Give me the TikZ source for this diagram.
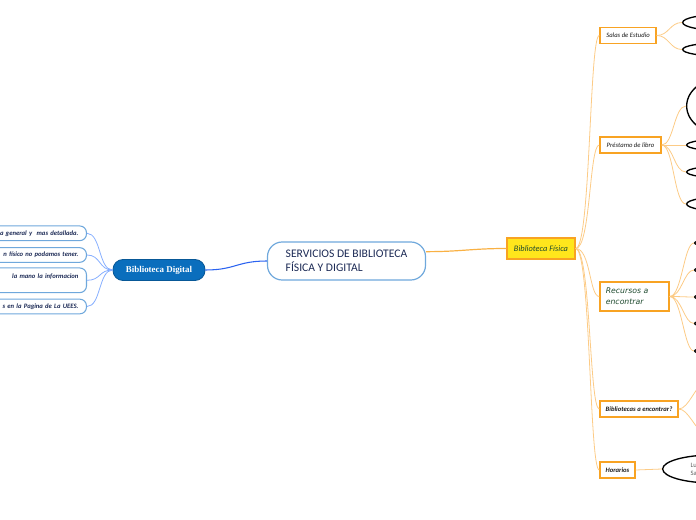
\documentclass[tikz,border=0pt]{standalone}
\usepackage{fontspec}
\setmainfont{Carlito}
\newfontfamily\digfont{Liberation Serif}
\newfontfamily\recfont{DejaVu Sans}
\usetikzlibrary{positioning,shapes.geometric,calc}
\definecolor{ink}      {HTML}{1B1B1B}
\definecolor{navy}     {HTML}{1C2A55}
\definecolor{skyline}  {HTML}{6FA8DC}
\definecolor{royal}    {HTML}{2B63F0}
\definecolor{paleblue} {HTML}{86AEFF}
\definecolor{digblue}  {HTML}{0A6EBD}
\definecolor{amber}    {HTML}{F8A323}
\definecolor{paleamber}{HTML}{FCCB86}
\definecolor{lemon}    {HTML}{FFE61C}
\definecolor{forest}   {HTML}{1E4A2E}
\tikzset{
  % --- nodes
  hub/.style   = {draw=skyline, line width=0.9pt, fill=white, rounded corners=11pt,
                  align=left, minimum width=118.5pt, minimum height=28.5pt,
                  font=\fontsize{8.7}{10.5}\selectfont, text=navy},
  dig/.style   = {draw=digblue!80!black, line width=0.6pt, fill=digblue, rounded corners=7.5pt,
                  minimum width=69pt, minimum height=15.75pt, inner sep=0pt,
                  font=\digfont\bfseries\fontsize{6.7}{8}\selectfont, text=white},
  leaf/.style  = {draw=skyline, line width=0.8pt, fill=white, rounded corners=5pt, anchor=east,
                  text width=150pt, align=right, inner xsep=6pt, minimum height=10.5pt,
                  font=\bfseries\itshape\fontsize{5}{6}\selectfont, text=navy},
  fis/.style   = {draw=amber, line width=1pt, fill=lemon, minimum width=51pt,
                  minimum height=15.75pt, inner sep=0pt,
                  font=\itshape\fontsize{6.3}{7.5}\selectfont, text=forest},
  sub/.style   = {draw=amber, line width=1.1pt, fill=white, minimum height=12pt, inner sep=0pt,
                  font=\itshape\fontsize{5}{6}\selectfont, text=ink},
  oval/.style  = {ellipse, draw=black, line width=1pt, fill=white, anchor=west, inner sep=0pt},
  % --- edges
  eblue/.style = {draw=royal, line width=0.8pt},
  ebthin/.style= {draw=paleblue, line width=0.6pt},
  eamb/.style  = {draw=amber!85, line width=0.9pt},
  eathin/.style= {draw=paleamber, line width=0.6pt},
}
\begin{document}
\begin{tikzpicture}[x=0.75pt,y=-0.75pt]
  \useasboundingbox (0,0) rectangle (696,520);
  \clip (0,0) rectangle (696,520);

  % --- centre and first level
  \node[hub] (srv) at (346.5,261) {SERVICIOS DE BIBLIOTECA\\FÍSICA Y DIGITAL};
  \node[dig] (dig) at (159,270) {Biblioteca Digital};
  \node[fis] (fis) at (541,248.5) {Biblioteca Física};
  \draw[eblue] (srv.west) .. controls +(-30,0) and +(30,0) .. (dig.east);
  \draw[eamb] ([yshift=7pt]srv.east) .. controls +(35,0) and +(-35,0) .. (fis.west);

  % --- digital side
  \node[leaf] (d1) at (87,233.3) {a general y\ \ mas detallada.};
  \node[leaf] (d2) at (87,255) {n físico no podamos tener.};
  \node[leaf, minimum height=18.5pt] (d3) at (87,280.3) {la mano la informacion\hspace*{5pt}\\~};
  \node[leaf] (d4) at (87,306.5) {s en la Pagina de La UEES.};
  \draw[ebthin] (dig.west) .. controls +(-14,0) and +(14,0) .. (d1.east);
  \draw[ebthin] (dig.west) .. controls +(-14,0) and +(14,0) .. (d2.east);
  \draw[ebthin] (dig.west) .. controls +(-14,0) and +(14,0) .. (d3.east);
  \draw[ebthin] (dig.west) .. controls +(-14,0) and +(14,0) .. (d4.east);

  % --- fisica side
  \node[sub, minimum width=42pt] (sal) at (628,35.5) {Salas de Estudio};
  \node[sub, minimum width=45.75pt] (pre) at (630.5,145) {Préstamo de libro};
  \node[sub, minimum width=51.75pt, minimum height=21.75pt, text width=43pt, align=left,
        font=\recfont\itshape\fontsize{5.8}{8.2}\selectfont, text=forest] (rec) at (634.5,296.5)
        {Recursos a\\encontrar};
  \node[sub, minimum width=58.5pt, font=\bfseries\itshape\fontsize{5}{6}\selectfont] (bib) at (639,409)
        {Bibliotecas a encontrar?};
  \node[sub, minimum width=26.25pt, font=\bfseries\itshape\fontsize{5}{6}\selectfont] (hor) at (617.5,470)
        {Horarios};
  \draw[eathin] (fis.east) .. controls +(15,0) and +(-10,0) .. (sal.west);
  \draw[eathin] (fis.east) .. controls +(15,0) and +(-10,0) .. (pre.west);
  \draw[eathin] (fis.east) .. controls +(15,0) and +(-10,0) .. (rec.west);
  \draw[eathin] (fis.east) .. controls +(15,0) and +(-10,0) .. (bib.west);
  \draw[eathin] (fis.east) .. controls +(15,0) and +(-10,0) .. (hor.west);

  % --- third level (cut by the page edge)
  \node[oval, minimum width=60pt, minimum height=12pt] (s1) at (682,22.5) {};
  \node[oval, minimum width=60pt, minimum height=10pt] (s2) at (682,49.5) {};
  \draw[eathin] (sal.east) .. controls +(12,0) and +(-12,0) .. (s1.west);
  \draw[eathin] (sal.east) .. controls +(12,0) and +(-12,0) .. (s2.west);

  \node[oval, minimum width=60pt, minimum height=44pt] (p1) at (686,106) {};
  \node[oval, minimum width=60pt, minimum height=9pt] (p2) at (686,145) {};
  \node[oval, minimum width=60pt, minimum height=9pt] (p3) at (686,172) {};
  \node[oval, minimum width=60pt, minimum height=11pt] (p4) at (686,204) {};
  \draw[eathin] (pre.east) .. controls +(12,0) and +(-12,0) .. (p1.west);
  \draw[eathin] (pre.east) .. controls +(12,0) and +(-12,0) .. (p2.west);
  \draw[eathin] (pre.east) .. controls +(12,0) and +(-12,0) .. (p3.west);
  \draw[eathin] (pre.east) .. controls +(12,0) and +(-12,0) .. (p4.west);

  \node[oval, minimum width=40pt, minimum height=6pt] (r1) at (694,243) {};
  \node[oval, minimum width=40pt, minimum height=6pt] (r2) at (694,270) {};
  \node[oval, minimum width=40pt, minimum height=6pt] (r3) at (694,297) {};
  \node[oval, minimum width=40pt, minimum height=6pt] (r4) at (694,323.5) {};
  \node[oval, minimum width=40pt, minimum height=6pt] (r5) at (694,351) {};
  \draw[eathin] (rec.east) .. controls +(12,0) and +(-10,0) .. (r1.west);
  \draw[eathin] (rec.east) .. controls +(12,0) and +(-10,0) .. (r2.west);
  \draw[eathin] (rec.east) .. controls +(12,0) and +(-10,0) .. (r3.west);
  \draw[eathin] (rec.east) .. controls +(12,0) and +(-10,0) .. (r4.west);
  \draw[eathin] (rec.east) .. controls +(12,0) and +(-10,0) .. (r5.west);

  \coordinate (b1) at (704,384);
  \coordinate (b2) at (704,432);
  \draw[eathin] (bib.east) .. controls +(10,0) and +(-8,0) .. (b1);
  \draw[eathin] (bib.east) .. controls +(10,0) and +(-8,0) .. (b2);

  \node[oval, minimum width=75pt, minimum height=21pt, text width=33pt, align=left,
        font=\fontsize{5}{6}\selectfont, text=ink!70] (h1) at (662,469) {Lu\\Sa};
  \draw[eathin] (hor.east) -- (h1.west);
\end{tikzpicture}
\end{document}
